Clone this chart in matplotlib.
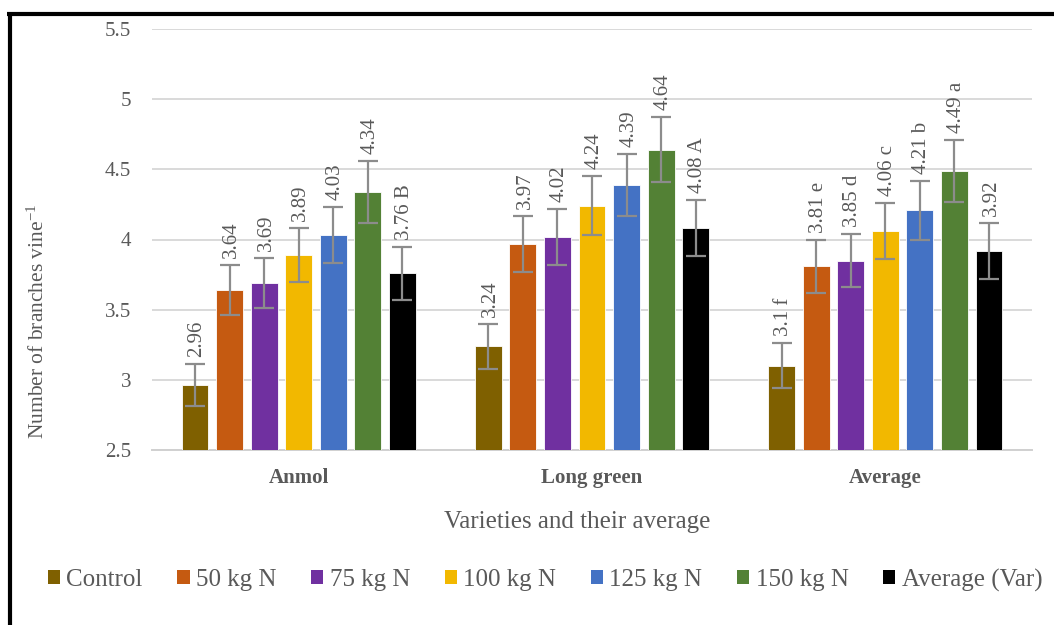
import matplotlib
matplotlib.use("Agg")
import matplotlib.pyplot as plt
import numpy as np
from matplotlib.lines import Line2D
from matplotlib.patches import Patch

plt.rcParams['font.family'] = ['Liberation Serif', 'DejaVu Serif']
plt.rcParams['mathtext.fontset'] = 'custom'
plt.rcParams['mathtext.rm'] = 'Liberation Serif'
plt.rcParams['mathtext.it'] = 'Liberation Serif:italic'
plt.rcParams['mathtext.bf'] = 'Liberation Serif:bold'

categories = ["Anmol", "Long green", "Average"]
series = ["Control", "50 kg N", "75 kg N", "100 kg N", "125 kg N", "150 kg N", "Average (Var)"]
colors = ["#7F6000", "#C55A11", "#7030A0", "#F2B800", "#4472C4", "#538135", "#000000"]

# values[series][category]
values = [
    [2.96, 3.24, 3.10],
    [3.64, 3.97, 3.81],
    [3.69, 4.02, 3.85],
    [3.89, 4.24, 4.06],
    [4.03, 4.39, 4.21],
    [4.34, 4.64, 4.49],
    [3.76, 4.08, 3.92],
]
errors = [
    [0.15, 0.16, 0.16],
    [0.18, 0.20, 0.19],
    [0.18, 0.20, 0.19],
    [0.19, 0.21, 0.20],
    [0.20, 0.22, 0.21],
    [0.22, 0.23, 0.22],
    [0.19, 0.20, 0.20],
]
labels = [
    ["2.96", "3.24", "3.1 f"],
    ["3.64", "3.97", "3.81 e"],
    ["3.69", "4.02", "3.85 d"],
    ["3.89", "4.24", "4.06 c"],
    ["4.03", "4.39", "4.21 b"],
    ["4.34", "4.64", "4.49 a"],
    ["3.76 B", "4.08 A", "3.92"],
]
yticks = [2.5, 3, 3.5, 4, 4.5, 5, 5.5]
ytick_labels = ["2.5", "3", "3.5", "4", "4.5", "5", "5.5"]

W, H = 1054, 625
fig = plt.figure(figsize=(W / 100, H / 100), dpi=100)
ax = fig.add_axes([152 / W, 1 - 450 / H, (1032 - 152) / W, (450 - 29) / H])

txt = "#595959"
serif = ['Liberation Serif', 'DejaVu Serif']
x = np.arange(len(categories))
pitch = 0.1178
width = 0.092
n = len(series)
for i in range(n):
    pos = x + (i - (n - 1) / 2) * pitch
    ax.bar(pos, values[i], width=width, bottom=0, color=colors[i],
           edgecolor="white", linewidth=0.6, zorder=3, label=series[i])
    eb = ax.errorbar(pos, values[i], yerr=errors[i], fmt="none",
                     ecolor="#8C8C8C", elinewidth=1.6, capsize=7,
                     capthick=1.6, zorder=4)
    for cl in eb[1]:
        cl.set_color("#595959")
    for j in range(len(categories)):
        ax.annotate(labels[i][j], (pos[j], values[i][j] + errors[i][j]),
                    xytext=(1.5, 5), textcoords="offset points",
                    rotation=90, ha="center", va="bottom", family=serif,
                    fontsize=15, color=txt, zorder=5)

ax.set_ylim(2.5, 5.5)
ax.set_xlim(-0.5, 2.5)
ax.set_yticks(yticks)
ax.set_yticklabels(ytick_labels, family=serif)
ax.set_xticks(x)
ax.set_xticklabels(categories, fontweight="bold", family=serif)
ax.tick_params(axis="y", length=0, pad=15, labelsize=15, labelcolor=txt)
ax.tick_params(axis="x", length=0, pad=13, labelsize=15, labelcolor=txt)
ax.grid(axis="y", color="#D9D9D9", linewidth=1.4, zorder=0)
ax.set_axisbelow(True)
for s in ["top", "right", "left"]:
    ax.spines[s].set_visible(False)
ax.spines["bottom"].set_color("#D0D0D0")
ax.spines["bottom"].set_linewidth(1.4)

ax.set_ylabel("Number of branches vine$^{-1}$", fontsize=15.5, color=txt, labelpad=0)
ax.yaxis.set_label_coords((38 - 152) / (1032 - 152), (450 - 321) / (450 - 29))
ax.set_xlabel("Varieties and their average", fontsize=18, color=txt)
ax.xaxis.set_label_coords((577 - 152) / (1032 - 152), -(522 - 450) / (450 - 29))
ax.xaxis.label.set_va("center")
ax.yaxis.label.set_va("center")

handles = [Patch(facecolor=c, edgecolor="none") for c in colors]
leg = fig.legend(handles, series, loc="center", ncol=7,
                 bbox_to_anchor=(545 / W, 1 - 580 / H), frameon=False,
                 prop={'family': serif, 'size': 18},
                 handlelength=0.5, handleheight=0.5,
                 handletextpad=0.25, columnspacing=1.38, borderaxespad=0)
for t in leg.get_texts():
    t.set_color(txt)

# outer frame (top and left edges)
fig.add_artist(Line2D([7 / W, 1.0], [1 - 14 / H, 1 - 14 / H], color="black",
                      linewidth=3, transform=fig.transFigure, solid_capstyle="butt"))
fig.add_artist(Line2D([9.5 / W, 9.5 / W], [1 - 12 / H, 0.0], color="black",
                      linewidth=3, transform=fig.transFigure, solid_capstyle="butt"))

fig.savefig("out.png", dpi=100, facecolor="white")
